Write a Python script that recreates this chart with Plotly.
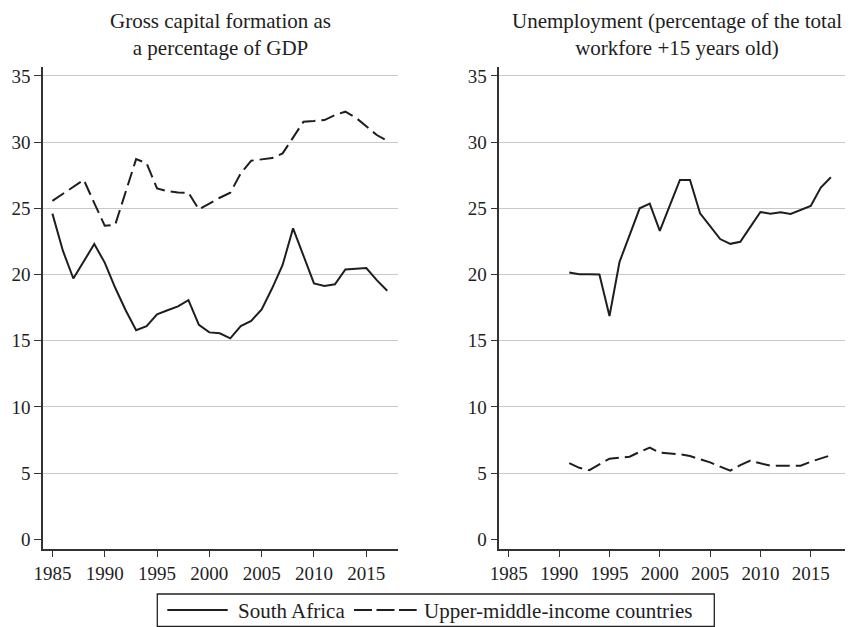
import plotly.graph_objects as go

years_gcf = list(range(1985, 2018))
gcf_sa = [24.6, 21.8, 19.7, 21.0, 22.3, 20.9, 19.0, 17.3, 15.8, 16.1, 17.0, 17.3, 17.6, 18.07,
          16.2, 15.63, 15.56, 15.18, 16.1, 16.5, 17.37, 18.96, 20.72, 23.49, 21.4, 19.33,
          19.13, 19.26, 20.39, 20.43, 20.49, 19.58, 18.78]
gcf_umic = [25.57, 26.1, 26.6, 27.15, 25.4, 23.69, 23.76, 26.2, 28.72, 28.4, 26.5, 26.3, 26.2,
            26.18, 24.92, 25.35, 25.8, 26.18, 27.64, 28.6, 28.7, 28.8, 29.15, 30.4, 31.55,
            31.6, 31.67, 32.05, 32.3, 31.85, 31.17, 30.54, 30.1]

years_unemp = list(range(1991, 2018))
unemp_sa = [20.15, 20.03, 20.03, 20.0, 16.87, 20.96, 22.98, 25.0, 25.35, 23.3, 25.23, 27.15,
            27.15, 24.62, 23.66, 22.68, 22.32, 22.47, 23.6, 24.72, 24.6, 24.7, 24.57, 24.9,
            25.18, 26.57, 27.35]
unemp_umic = [5.75, 5.4, 5.22, 5.65, 6.09, 6.17, 6.24, 6.6, 6.92, 6.54, 6.47, 6.42, 6.29,
              6.04, 5.81, 5.49, 5.18, 5.61, 5.94, 5.74, 5.56, 5.56, 5.56, 5.56, 5.86, 6.1, 6.35]

y_ticks = [0, 5, 10, 15, 20, 25, 30, 35]
x_ticks = [1985, 1990, 1995, 2000, 2005, 2010, 2015]
titles = ["Gross capital formation as<br>a percentage of GDP",
          "Unemployment (percentage of the total<br>workfore +15 years old)"]
names = ["South Africa", "Upper-middle-income countries"]

FONT = "Liberation Serif"
INK = "#1e1e1e"
DASH = "14px,6px"

# the page body adds an 8px margin, so the figure is sized to fit the window
OFF = 8
W, H = 853 - OFF, 627 - OFF


def px(x):
    return (x - OFF) / W


def py(y):
    return (H - (y - OFF)) / H


fig = go.Figure()
fig.add_trace(go.Scatter(x=years_gcf, y=gcf_sa, mode="lines", name=names[0],
                         line=dict(color=INK, width=2), xaxis="x", yaxis="y"))
fig.add_trace(go.Scatter(x=years_gcf, y=gcf_umic, mode="lines", name=names[1],
                         line=dict(color=INK, width=2, dash=DASH), xaxis="x", yaxis="y"))
fig.add_trace(go.Scatter(x=years_unemp, y=unemp_sa, mode="lines", name=names[0],
                         line=dict(color=INK, width=2), xaxis="x2", yaxis="y2"))
fig.add_trace(go.Scatter(x=years_unemp, y=unemp_umic, mode="lines", name=names[1],
                         line=dict(color=INK, width=2, dash=DASH), xaxis="x2", yaxis="y2"))

ydom = [py(548.7), py(66.7)]


def xax(domain, rng, anchor):
    return dict(domain=domain, range=rng, anchor=anchor, tickvals=x_ticks,
                ticks="outside", ticklen=7, tickwidth=1.3, tickcolor="#333",
                showline=True, linecolor="#333", linewidth=1.5, showgrid=False,
                zeroline=False, automargin=False,
                tickfont=dict(family=FONT, size=19, color=INK))


def yax(anchor):
    return dict(domain=ydom, range=[-0.71, 35.7], anchor=anchor, tickvals=y_ticks,
                ticks="outside", ticklen=7, tickwidth=1.3, tickcolor="#333",
                showline=True, linecolor="#333", linewidth=1.5, showgrid=True,
                gridcolor="#c9c9c9", gridwidth=1.2, zeroline=True, zerolinecolor="white",
                zerolinewidth=1, automargin=False,
                tickfont=dict(family=FONT, size=19, color=INK))


# legend drawn as a framed key below the panels
legend_shapes = [
    dict(type="rect", xref="paper", yref="paper", x0=px(157.3), x1=px(714.3),
         y0=py(626.3), y1=py(594), line=dict(color="#222", width=1.3), fillcolor="white"),
    dict(type="line", xref="paper", yref="paper", x0=px(167.3), x1=px(227.7),
         y0=py(610), y1=py(610), line=dict(color=INK, width=2)),
    dict(type="line", xref="paper", yref="paper", x0=px(354), x1=px(416.7),
         y0=py(610), y1=py(610), line=dict(color=INK, width=2, dash="18px,4.5px")),
]
legend_texts = [
    dict(text=names[0], x=px(236), y=py(610.5), xref="paper", yref="paper",
         xanchor="left", yanchor="middle", showarrow=False,
         font=dict(family=FONT, size=21, color=INK)),
    dict(text=names[1], x=px(421.5), y=py(610.5), xref="paper", yref="paper",
         xanchor="left", yanchor="middle", showarrow=False,
         font=dict(family=FONT, size=21, color=INK)),
]

title_common = dict(y=1.0, xref="paper", yref="paper", xanchor="center", yanchor="top",
                    showarrow=False, borderpad=0,
                    font=dict(family=FONT, size=21, color=INK))

fig.update_layout(
    width=W, height=H,
    margin=dict(l=0, r=0, t=0, b=0, autoexpand=False),
    paper_bgcolor="white", plot_bgcolor="white",
    font=dict(family=FONT, size=19, color=INK),
    xaxis=xax([px(43), px(397.7)], [1984.1, 2018.0], "y"),
    yaxis=yax("x"),
    xaxis2=xax([px(499.3), 1.0], [1984.05, 2019.2], "y2"),
    yaxis2=yax("x2"),
    showlegend=False,
    shapes=legend_shapes,
    annotations=[
        dict(text=titles[0], x=px(220), **title_common),
        dict(text=titles[1], x=px(676.5), **title_common),
    ] + legend_texts,
)

fig.write_html("out.html")
